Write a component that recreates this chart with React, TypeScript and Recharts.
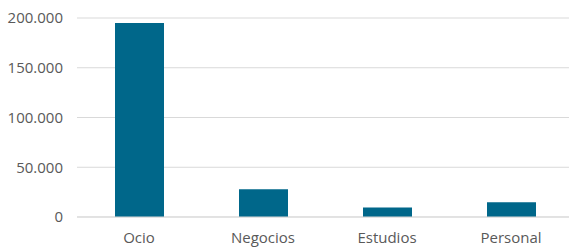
import React from "react";
import { BarChart, Bar, XAxis, YAxis, CartesianGrid } from "recharts";

const categories = ["Ocio", "Negocios", "Estudios", "Personal"];
const values = [195000, 28000, 9500, 14700];
const yTicks = [0, 50000, 100000, 150000, 200000];

const data = categories.map((name, i) => ({ name, value: values[i] }));

const fmt = (v: number) => String(v).replace(/\B(?=(\d{3})+(?!\d))/g, ".");

const tickStyle = { fill: "#595959", fontSize: 15, fontFamily: "'Open Sans', sans-serif" };

export default function App() {
  return (
    <div style={{ position: "absolute", left: 0, top: 0, background: "#fff" }}>
      <BarChart
        width={569}
        height={247}
        data={data}
        margin={{ top: 18, right: -4, bottom: 0, left: 0 }}
      >
        <CartesianGrid vertical={false} stroke="#d9d9d9" />
        <XAxis
          dataKey="name"
          height={30}
          tickLine={false}
          axisLine={{ stroke: "#d9d9d9" }}
          tick={tickStyle}
          tickMargin={9}
          interval={0}
        />
        <YAxis
          width={77}
          domain={[0, 200000]}
          ticks={yTicks}
          tickFormatter={fmt}
          axisLine={false}
          tickLine={false}
          tick={tickStyle}
          tickMargin={8}
          interval={0}
        />
        <Bar dataKey="value" fill="#00678A" barSize={49} isAnimationActive={false} />
      </BarChart>
    </div>
  );
}
